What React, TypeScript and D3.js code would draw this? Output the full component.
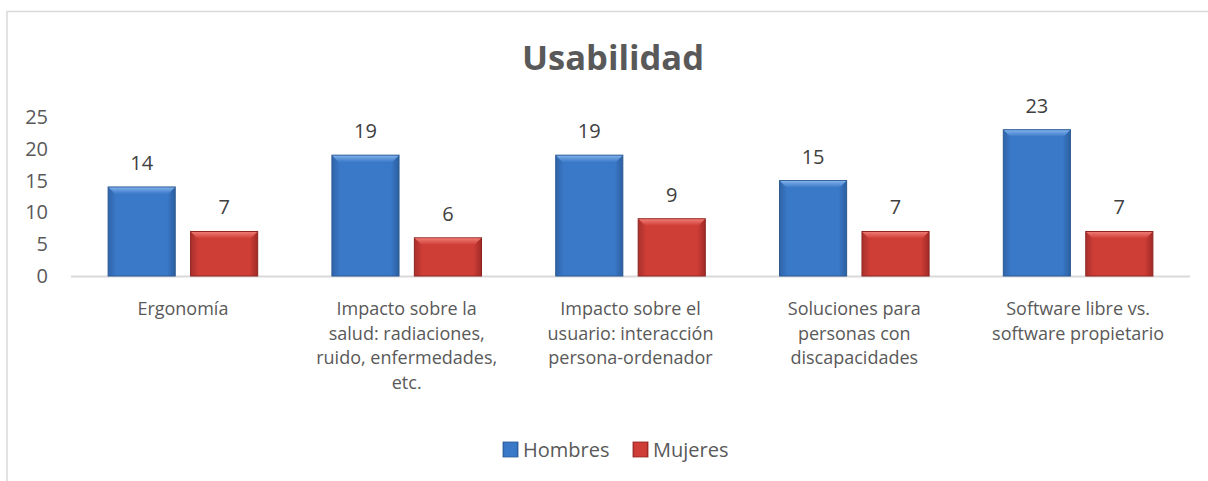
import React from "react";
import * as d3 from "d3";

const categories = [
  ["Ergonomía"],
  ["Impacto sobre la", "salud: radiaciones,", "ruido, enfermedades,", "etc."],
  ["Impacto sobre el", "usuario: interacción", "persona-ordenador"],
  ["Soluciones para", "personas con", "discapacidades"],
  ["Software libre vs.", "software propietario"],
];
const seriesNames = ["Hombres", "Mujeres"];
const hombres = [14, 19, 19, 15, 23];
const mujeres = [7, 6, 9, 7, 7];
const yTicks = [0, 5, 10, 15, 20, 25];

const W = 1208;
const H = 481;
const FONT = "'Open Sans', sans-serif";

export default function App() {
  const plotLeft = 71;
  const plotRight = 1190;
  const y = d3.scaleLinear().domain([0, 25]).range([276, 117]);
  const x0 = d3
    .scaleBand<number>()
    .domain(d3.range(categories.length))
    .range([plotLeft, plotRight])
    .paddingInner(0)
    .paddingOuter(0);
  const x1 = d3
    .scaleBand<number>()
    .domain([0, 1])
    .range([0, x0.bandwidth()])
    .paddingInner(0.186)
    .paddingOuter(0.45);
  const series = [hombres, mujeres];
  const grads = ["gBlue", "gRed"];
  const strokes = ["#2c5a94", "#8e2420"];
  const legendX = [503, 633];

  return (
    <svg
      width={W}
      height={H}
      style={{ position: "absolute", left: 0, top: 0, background: "#fff" }}
      fontFamily={FONT}
    >
      <defs>
        <linearGradient id="gBlue" x1="0" x2="1" y1="0" y2="0">
          <stop offset="0" stopColor="#2f64a8" />
          <stop offset="0.12" stopColor="#3a78c8" />
          <stop offset="0.88" stopColor="#3a78c8" />
          <stop offset="1" stopColor="#2c5f9f" />
        </linearGradient>
        <linearGradient id="gRed" x1="0" x2="1" y1="0" y2="0">
          <stop offset="0" stopColor="#a8302c" />
          <stop offset="0.12" stopColor="#cf3d37" />
          <stop offset="0.88" stopColor="#cf3d37" />
          <stop offset="1" stopColor="#a02a26" />
        </linearGradient>
        <linearGradient id="gTopB" x1="0" x2="0" y1="0" y2="1">
          <stop offset="0" stopColor="#7fb0ea" />
          <stop offset="1" stopColor="#3a78c8" />
        </linearGradient>
        <linearGradient id="gTopR" x1="0" x2="0" y1="0" y2="1">
          <stop offset="0" stopColor="#ee7a72" />
          <stop offset="1" stopColor="#cf3d37" />
        </linearGradient>
      </defs>
      {/* chart border */}
      <path d={`M7,${H} V11.5 H${W}`} fill="none" stroke="#d9d9d9" strokeWidth={1.5} />

      <text
        x={613}
        y={70}
        textAnchor="middle"
        fontSize={34.5}
        fontWeight={700}
        fill="#595959"
      >
        Usabilidad
      </text>

      {yTicks.map((t) => (
        <text
          key={t}
          x={48}
          y={y(t)}
          dy="0.35em"
          textAnchor="end"
          fontSize={20}
          fill="#595959"
        >
          {t}
        </text>
      ))}

      <line x1={plotLeft} x2={plotRight} y1={y(0) + 0.5} y2={y(0) + 0.5} stroke="#d9d9d9" strokeWidth={2} />

      {categories.map((_, i) =>
        series.map((s, j) => {
          const bx = (x0(i) as number) + (x1(j) as number);
          const bw = x1.bandwidth();
          const by = y(s[i]);
          const bh = y(0) - by;
          return (
            <g key={`${i}-${j}`}>
              <rect x={bx} y={by} width={bw} height={bh} fill={`url(#${grads[j]})`} stroke={strokes[j]} strokeWidth={1} />
              <path
                d={`M${bx + 0.5},${by + 0.5} H${bx + bw - 0.5} L${bx + bw - 7},${by + 7} H${bx + 7} Z`}
                fill={j === 0 ? "url(#gTopB)" : "url(#gTopR)"}
              />
              <text
                x={bx + bw / 2}
                y={by - 17}
                textAnchor="middle"
                fontSize={20}
                fill="#404040"
              >
                {s[i]}
              </text>
            </g>
          );
        })
      )}

      {categories.map((lines, i) =>
        lines.map((l, k) => (
          <text
            key={`${i}-${k}`}
            x={(x0(i) as number) + x0.bandwidth() / 2}
            y={315 + k * 24.5}
            textAnchor="middle"
            fontSize={18}
            fill="#595959"
          >
            {l}
          </text>
        ))
      )}

      {seriesNames.map((n, j) => {
        const lx = legendX[j];
        return (
          <g key={n}>
            <rect x={lx} y={442} width={15} height={15} fill={`url(#${grads[j]})`} stroke={strokes[j]} strokeWidth={0.8} />
            <text x={lx + 20} y={457} fontSize={20} fill="#595959">
              {n}
            </text>
          </g>
        );
      })}
    </svg>
  );
}
